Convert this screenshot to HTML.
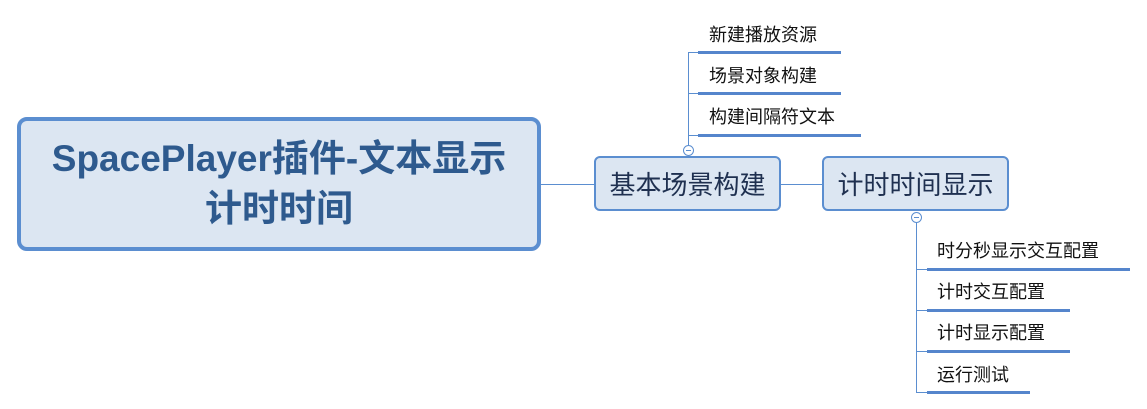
<!DOCTYPE html>
<html><head><meta charset="utf-8"><style>
body{margin:0;width:1147px;height:409px;background:#fff;position:relative;overflow:hidden;font-family:"Liberation Sans","Noto Sans CJK SC",sans-serif}
.a{position:absolute}
.t{position:absolute;font-size:18px;color:#111;line-height:20px;white-space:nowrap}
.u{position:absolute;height:3px;background:#5585CC}
.box{position:absolute;box-sizing:border-box;background:#DCE6F2;border:2px solid #5B8ED0;border-radius:6px;color:#1F3050;font-size:26px;display:flex;align-items:center;justify-content:center;white-space:nowrap}
</style></head><body>
<div class="box" style="left:17px;top:117px;width:524px;height:134px;border-width:4px;border-radius:10px;font-weight:bold;font-size:37px;color:#2E5A8E;text-align:center;line-height:50px">SpacePlayer插件-文本显示<br>计时时间</div>
<div class="a" style="left:541px;top:184px;width:54px;height:1px;background:#5B8ED0"></div>
<div class="box" style="left:594px;top:156px;width:187px;height:55px">基本场景构建</div>
<div class="a" style="left:781px;top:184px;width:42px;height:1px;background:#5B8ED0"></div>
<div class="box" style="left:822px;top:156px;width:187px;height:55px">计时时间显示</div>
<!-- top branch -->
<div class="a" style="left:688px;top:52px;width:1px;height:93px;background:#5B8ED0"></div>
<div class="a" style="left:683px;top:145px;width:9px;height:9px;border:1px solid #5B8ED0;border-radius:50%;background:#fff"></div>
<div class="a" style="left:686px;top:150px;width:5px;height:1px;background:#5B8ED0"></div>
<div class="a" style="left:688px;top:52px;width:10px;height:1px;background:#5B8ED0"></div>
<div class="a" style="left:688px;top:93px;width:10px;height:1px;background:#5B8ED0"></div>
<div class="a" style="left:688px;top:135px;width:10px;height:1px;background:#5B8ED0"></div>
<div class="t" style="left:709px;top:25px">新建播放资源</div><div class="u" style="left:698px;top:51px;width:143px"></div>
<div class="t" style="left:709px;top:66px">场景对象构建</div><div class="u" style="left:698px;top:92px;width:143px"></div>
<div class="t" style="left:709px;top:107px">构建间隔符文本</div><div class="u" style="left:698px;top:134px;width:163px"></div>
<!-- bottom branch -->
<div class="a" style="left:916px;top:222px;width:1px;height:170px;background:#5B8ED0"></div>
<div class="a" style="left:911px;top:212px;width:9px;height:9px;border:1px solid #5B8ED0;border-radius:50%;background:#fff"></div>
<div class="a" style="left:914px;top:217px;width:5px;height:1px;background:#5B8ED0"></div>
<div class="a" style="left:916px;top:269px;width:11px;height:1px;background:#5B8ED0"></div>
<div class="a" style="left:916px;top:310px;width:11px;height:1px;background:#5B8ED0"></div>
<div class="a" style="left:916px;top:351px;width:11px;height:1px;background:#5B8ED0"></div>
<div class="a" style="left:916px;top:392px;width:11px;height:1px;background:#5B8ED0"></div>
<div class="t" style="left:937px;top:241px">时分秒显示交互配置</div><div class="u" style="left:927px;top:268px;width:203px"></div>
<div class="t" style="left:937px;top:282px">计时交互配置</div><div class="u" style="left:927px;top:309px;width:143px"></div>
<div class="t" style="left:937px;top:323px">计时显示配置</div><div class="u" style="left:927px;top:350px;width:143px"></div>
<div class="t" style="left:937px;top:365px">运行测试</div><div class="u" style="left:927px;top:391px;width:103px"></div>
</body></html>
